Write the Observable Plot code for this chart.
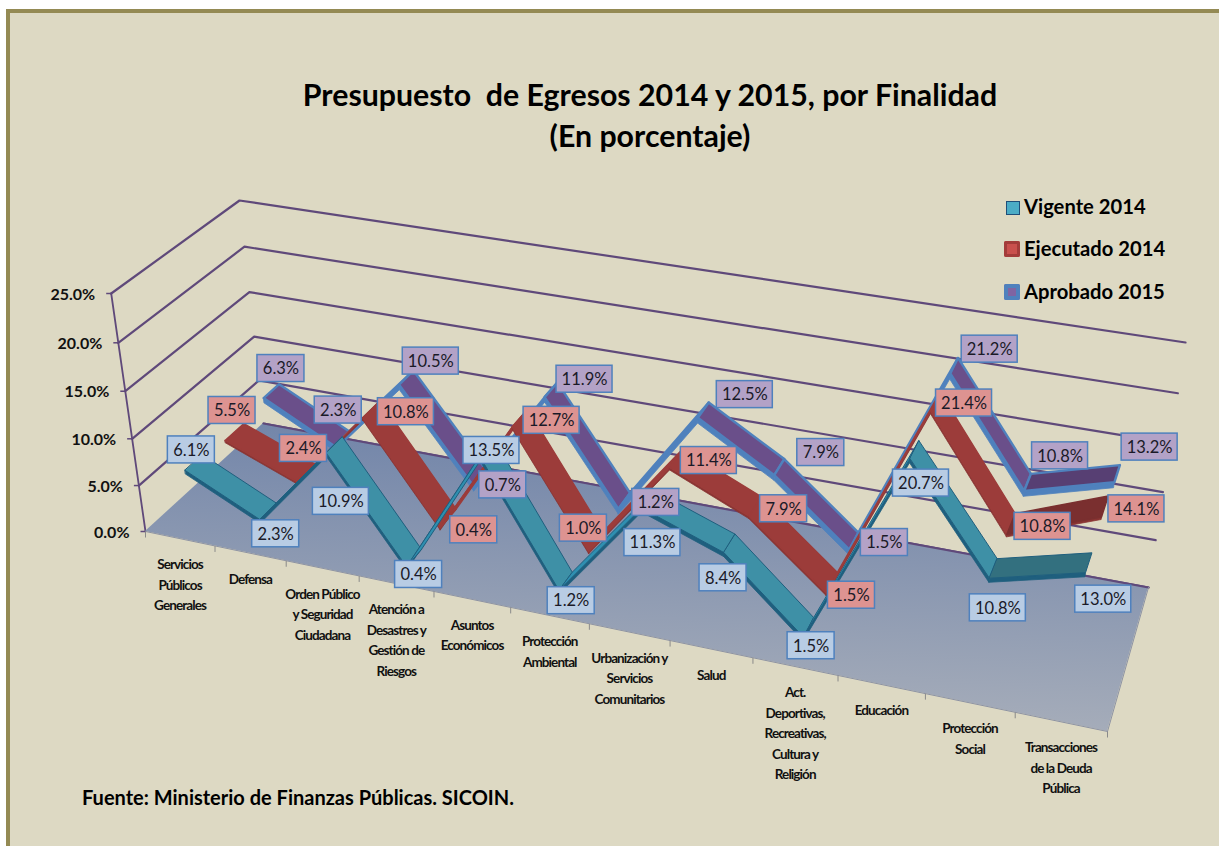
<!DOCTYPE html>
<html><head><meta charset="utf-8">
<script src="https://cdn.jsdelivr.net/npm/d3@7"></script>
<script src="https://cdn.jsdelivr.net/npm/@observablehq/plot@0.6"></script>
<style>
html,body{margin:0;background:#fff;overflow:hidden;width:1219px;height:846px}
#frame{position:absolute;left:6px;top:9px;width:1300px;height:900px;border:4px solid #948a54;background:#ddd9c3}
#chart{position:absolute;left:0;top:0;width:1219px;height:846px}
.t{position:absolute;font-family:Lato,sans-serif;font-weight:700;color:#000;white-space:pre}
</style></head><body>
<div id="frame"></div><div id="chart"></div>
<div class="t" style="left:0;width:1300px;text-align:center;top:76px;font-size:30.3px">Presupuesto  de Egresos 2014 y 2015, por Finalidad</div>
<div class="t" style="left:0;width:1300px;text-align:center;top:117px;font-size:30.3px">(En porcentaje)</div>
<div class="t" style="left:82px;top:785px;font-size:20px">Fuente: Ministerio de Finanzas Públicas. SICOIN.</div>
<script>
const categories=["Servicios\nPúblicos\nGenerales","Defensa","Orden Público\ny Seguridad\nCiudadana","Atención a\nDesastres y\nGestión de\nRiesgos","Asuntos\nEconómicos","Protección\nAmbiental","Urbanización y\nServicios\nComunitarios","Salud","Act.\nDeportivas,\nRecreativas,\nCultura y\nReligión","Educación","Protección\nSocial","Transacciones\nde la Deuda\nPública"];
const vigente=[6.1,2.3,10.9,0.4,13.5,1.2,11.3,8.4,1.5,20.7,10.8,13.0];
const ejecutado=[5.5,2.4,10.8,0.4,12.7,1.0,11.4,7.9,1.5,21.4,10.8,14.1];
const aprobado=[6.3,2.3,10.5,0.7,11.9,1.2,12.5,7.9,1.5,21.2,10.8,13.2];
const ticks=[0,5,10,15,20,25];
// layout: label box offsets (px) from each projected point
const labelOffsets={vigente:[[-3,-13],[7,22],[6,56],[4,16],[4,2],[5,19],[4,43],[-7,34],[2,18],[6,33],[4,39],[14,36]],
ejecutado:[[-3,-22],[-3,-25],[34,2],[25,11],[31,2],[-13,-14],[32,2],[28,2],[19,12],[28,1],[31,2],[31,2]],
aprobado:[[9,-23],[-4,-29],[24,-17],[22,6],[33,-11],[31,1],[41,-16],[41,-15],[30,1],[35,-17],[32,-27],[32,-27]]};
function hom(p0,p1,p2,p3){const [x0,y0]=p0,[x1,y1]=p1,[x2,y2]=p2,[x3,y3]=p3;
 const dx1=x1-x2,dx2=x3-x2,sx=x0-x1+x2-x3,dy1=y1-y2,dy2=y3-y2,sy=y0-y1+y2-y3,den=dx1*dy2-dx2*dy1;
 const g=(sx*dy2-dx2*sy)/den,h=(dx1*sy-sx*dy1)/den,a=x1-x0+g*x1,b=x3-x0+h*x3,d=y1-y0+g*y1,e=y3-y0+h*y3;
 return (u,w)=>{const q=g*u+h*w+1;return [(a*u+b*w+x0)/q,(d*u+e*w+y0)/q];};}
const floor=hom([145,531],[1107,731],[1148,587],[263,423]);
const roof=hom([110.7,293],[1150,466],[1185,342],[239,200]);
const warp=k=>t=>t/(k-(k-1)*t);const vw=warp(1.045);
function P(u,v,w){const a=floor(u,w),b=roof(u,w),t=vw(v/25);return [a[0]+(b[0]-a[0])*t,a[1]+(b[1]-a[1])*t];}
const uc=i=>(i+.5)/12;
const series=[
 {name:"aprobado",vals:aprobado,w:[.76,.90],wl:.83,box:"#b3a2c7",fall:"#6a4f8a",rise:"#4f81bd",flat:"#573f73",side:"#4f81bd",stroke:"#4f81bd",sw:2.4,t:.55},
 {name:"ejecutado",vals:ejecutado,w:[.42,.58],wl:.5,box:"#dd9391",fall:"#9c3c3a",rise:"#9c3c3a",flat:"#7a2f2f",side:"#8a3533",stroke:"#9c3c3a",sw:1.4,t:.25},
 {name:"vigente",vals:vigente,w:[.10,.24],wl:.17,box:"#b8cce4",fall:"#3e90a6",rise:"#2f8fb0",flat:"#33707f",side:"#1f5f7e",stroke:"#1f5f7e",sw:1,t:.4}];
const X=d=>d[0],Y=d=>d[1];
const marks=[];
for(const t of ticks){
 const pts=t===0?[[0,1],[1,1]]:[[0,0],[0,1],[1,1]];
 marks.push(Plot.line(pts.map(([u,w])=>P(u,t,w)),{x:X,y:Y,stroke:"#5f497a",strokeWidth:2.2}));
}
marks.push(Plot.line([0,25].map(v=>P(0,v,0)),{x:X,y:Y,stroke:"#5f497a",strokeWidth:1.8}));
const fl=[0,1].map(u=>({a:floor(u,0),b:floor(u,1)}));
marks.push(Plot.area(fl,{x1:d=>d.a[0],y1:d=>d.a[1],x2:d=>d.b[0],y2:d=>d.b[1],fill:"url(#fg)"}));
marks.push(Plot.line([0,1].map(u=>P(u,0,1)),{x:X,y:Y,stroke:"#5f497a",strokeWidth:2}));
marks.push(Plot.line([0,1].map(u=>floor(u,0)),{x:X,y:Y,stroke:"#8d93a3",strokeWidth:1}));
marks.push(Plot.line([0,1].map(w=>floor(1,w)),{x:X,y:Y,stroke:"#8d93a3",strokeWidth:1}));
const ytk=ticks.map(t=>({t,p:P(0,t,0)}));
marks.push(Plot.link(ytk,{x1:d=>d.p[0]-5,x2:d=>d.p[0],y1:d=>d.p[1],y2:d=>d.p[1],stroke:"#5f497a",strokeWidth:1.5}));
marks.push(Plot.text(ytk,{x:d=>d.p[0]-16,y:d=>d.p[1]+1,text:d=>d.t.toFixed(1)+"%",textAnchor:"end",fontFamily:"Lato,sans-serif",fontWeight:700,fontSize:16,fill:"#111"}));
const ct=d3.range(13).map(i=>floor(i/12,0));
marks.push(Plot.link(ct,{x1:X,x2:X,y1:Y,y2:d=>d[1]+6,stroke:"#8a8a8a",strokeWidth:1}));
marks.push(Plot.text(categories.map((c,i)=>({c,p:floor(uc(i),0)})),{x:d=>d.p[0],y:d=>d.p[1]+16,text:d=>d.c,lineAnchor:"top",lineHeight:1.52,fontFamily:"Lato,sans-serif",fontWeight:700,fontSize:13.5,fill:"#111"}));
for(const s of series){
 const [w1,w2]=s.w;
 for(let i=0;i<11;i++){
  const rows=[i,i+1].map(j=>({u:uc(j),v:s.vals[j]}));
  const d=s.vals[i+1]-s.vals[i];
  const col=d<0?s.fall:(d<4?s.flat:s.rise);
  const side=rows.map(r=>({a:P(r.u,r.v,w1),b:P(r.u,r.v-s.t,w1)}));
  marks.push(Plot.area(side,{x1:q=>q.a[0],y1:q=>q.a[1],x2:q=>q.b[0],y2:q=>q.b[1],fill:s.side,stroke:s.side,strokeWidth:.8}));
  const top=rows.map(r=>({a:P(r.u,r.v,w1),b:P(r.u,r.v,w2)}));
  marks.push(Plot.area(top,{x1:q=>q.a[0],y1:q=>q.a[1],x2:q=>q.b[0],y2:q=>q.b[1],fill:col,stroke:d<4&&d>=0&&s.name==="ejecutado"?s.flat:s.stroke,strokeWidth:s.sw}));
 }
}
for(const s of [...series].reverse()){
 const rows=s.vals.map((v,i)=>{const p=P(uc(i),v,s.wl),o=labelOffsets[s.name][i];return {v,c:[p[0]+o[0],p[1]+o[1]],hw:v>=10?28:23.5};});
 marks.push(Plot.rect(rows,{x1:d=>d.c[0]-d.hw,x2:d=>d.c[0]+d.hw,y1:d=>d.c[1]-13.5,y2:d=>d.c[1]+13.5,fill:s.box,stroke:"#4f81bd",strokeWidth:1.5}));
 marks.push(Plot.text(rows,{x:d=>d.c[0],y:d=>d.c[1]+.5,text:d=>d.v.toFixed(1)+"%",fontFamily:"Lato,sans-serif",fontSize:16.5,fill:"#1a1a28"}));
}
const plot=Plot.plot({width:1219,height:846,margin:0,style:{background:"transparent",overflow:"visible"},
 x:{domain:[0,1219],range:[0,1219],axis:null},y:{domain:[0,846],range:[0,846],axis:null},marks});
const catText=new Set(categories.map(c=>c.replace(/\n/g,"")));
d3.select(plot).selectAll("text").filter(function(){return catText.has(this.textContent);}).style("letter-spacing","-0.9px");
const defs=d3.select(plot).insert("defs",":first-child");
const g=defs.append("linearGradient").attr("id","fg").attr("x1","62%").attr("y1","0%").attr("x2","45%").attr("y2","100%");
g.append("stop").attr("offset","0%").attr("stop-color","#6e82a8");
g.append("stop").attr("offset","100%").attr("stop-color","#aab0bb");
document.getElementById("chart").appendChild(plot);
const legend=[["Vigente 2014",207],["Ejecutado 2014",249],["Aprobado 2015",292]];
const sw=['width:12px;height:12px;left:1006px;background:#4bacc6;border:1px solid #1f4e79','width:16px;height:16px;left:1004px;background:#c9504d;box-shadow:inset 0 0 0 3px #a33c3a;border-radius:2px','width:16px;height:16px;left:1004px;background:#8064a2;box-shadow:inset 0 0 0 4px #4f81bd;border-radius:2px'];
legend.forEach(([t,y],i)=>{const e=document.createElement("div");e.className="t";e.style.cssText=`left:1024px;top:${y-12}px;font-size:20.2px;line-height:22px`;e.textContent=t;document.body.appendChild(e);
 const b=document.createElement("div");b.style.cssText=`position:absolute;top:${y-(i?8:6)}px;`+sw[i];document.body.appendChild(b);});
</script></body></html>
